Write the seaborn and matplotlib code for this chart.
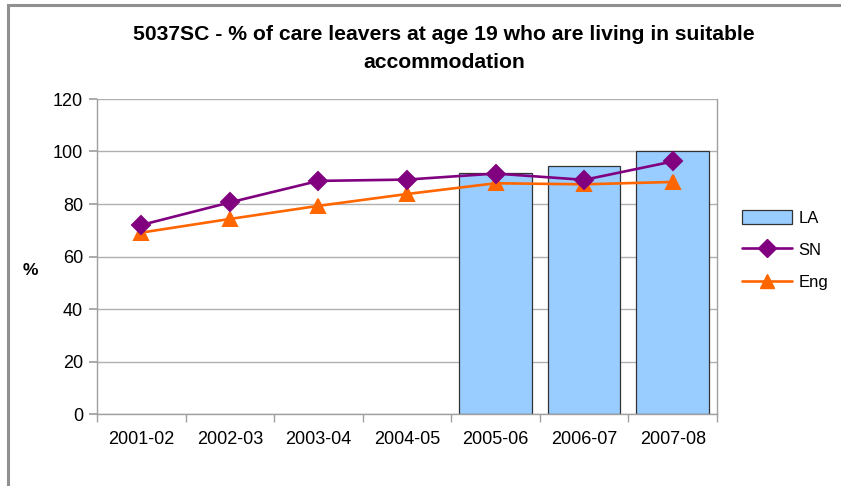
import matplotlib
matplotlib.use("Agg")
import matplotlib.pyplot as plt
from matplotlib.patches import Rectangle, Patch
from matplotlib.lines import Line2D
import seaborn as sns
import pandas as pd
import numpy as np

years = ["2001-02", "2002-03", "2003-04", "2004-05", "2005-06", "2006-07", "2007-08"]
la = [np.nan, np.nan, np.nan, np.nan, 91.7, 94.5, 100.0]
sn = [72.0, 80.6, 88.8, 89.3, 91.6, 89.2, 96.2]
eng = [69.1, 74.3, 79.3, 83.8, 87.9, 87.5, 88.4]
yticks = [0, 20, 40, 60, 80, 100, 120]

title = "5037SC - % of care leavers at age 19 who are living in suitable\naccommodation"

df = pd.DataFrame({"year": years, "LA": la, "SN": sn, "Eng": eng})

sns.set_theme(style="white")
plt.rcParams["font.family"] = ["Liberation Sans", "DejaVu Sans"]
plt.rcParams["text.color"] = "black"

fig = plt.figure(figsize=(8.41, 4.86), dpi=100)
W, H = 841, 486
ax = fig.add_axes([97 / W, 1 - 414 / H, (717 - 97) / W, (414 - 99) / H])

sns.barplot(data=df.dropna(subset=["LA"]), x="year", y="LA", order=years, ax=ax,
            color="#99CCFF", saturation=1, width=0.82, edgecolor="#333333",
            linewidth=0.9, zorder=2)
sns.pointplot(data=df, x="year", y="SN", order=years, ax=ax, color="#800080",
              markers="D", markersize=9, linewidth=1.9, errorbar=None, zorder=4)
sns.pointplot(data=df, x="year", y="Eng", order=years, ax=ax, color="#FF6600",
              markers="^", markersize=10.5, linewidth=1.9, errorbar=None, zorder=3)

ax.set_xlim(-0.5, len(years) - 0.5)
ax.set_ylim(0, 120)
ax.set_yticks(yticks)
ax.set_yticklabels([str(v) for v in yticks], fontsize=13)
ax.set_xticks(range(len(years)))
ax.set_xticklabels(years, fontsize=13)
ax.set_xlabel("")
ax.set_ylabel("")
ax.yaxis.grid(True, color="#B0B0B0", linewidth=1)
ax.set_axisbelow(True)
for s in ax.spines.values():
    s.set_visible(True)
    s.set_color("#A0A0A0")
    s.set_linewidth(1)
ax.spines["top"].set_visible(False)
ax.tick_params(axis="both", which="both", length=6, color="#A0A0A0", pad=4,
               bottom=True, left=True, direction="out", colors="black")
ax.set_xticks(np.arange(-0.5, len(years), 1), minor=True)
ax.tick_params(axis="x", which="major", length=0, pad=12)
ax.tick_params(axis="x", which="minor", length=6, color="#A0A0A0")

fig.text(30 / W, 1 - 270 / H, "%", ha="center", va="center", fontsize=12.5,
         fontweight="bold", color="black")

fig.text(444 / W, 1 - 49 / H, title, ha="center", va="center", fontsize=15.2,
         fontweight="bold", linespacing=1.6, color="black")

handles = [
    Patch(facecolor="#99CCFF", edgecolor="#333333", linewidth=0.9, label="LA"),
    Line2D([0], [0], color="#800080", marker="D", markersize=9, linewidth=1.9, label="SN"),
    Line2D([0], [0], color="#FF6600", marker="^", markersize=10.5, linewidth=1.9, label="Eng"),
]
fig.legend(handles=handles, loc="center left", bbox_to_anchor=(735 / W, 1 - 250 / H),
           frameon=False, fontsize=12, handlelength=3.0, handleheight=0.9,
           labelspacing=1.0, handletextpad=0.4, borderaxespad=0)

fig.patches.append(Rectangle((8 / W, -0.1), 1.2, 1 - 5 / H + 0.1, transform=fig.transFigure,
                             fill=False, edgecolor="#909090", linewidth=2.2, zorder=0))

fig.savefig("out.png", dpi=100)
